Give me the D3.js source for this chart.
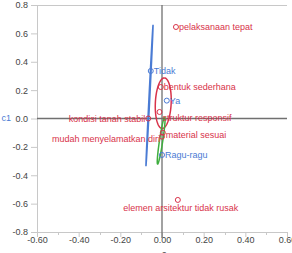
<!DOCTYPE html>
<html>
<head>
<meta charset="utf-8">
<script src="https://cdn.jsdelivr.net/npm/d3@7"></script>
<style>
  body { margin: 0; background: #fff; }
  svg { display: block; font-family: "Liberation Sans", Arial, sans-serif; }
  .tick text { fill: #444; font-size: 9px; }
</style>
</head>
<body>
<svg id="chart" width="292" height="253"></svg>
<script>
// point names, coordinates (c2, c1) and groups
var names = ["pelaksanaan tepat", "Tidak", "bentuk sederhana", "Ya", "struktur responsif",
             "kondisi tanah stabil", "mudah menyelamatkan diri", "material sesuai", "Ragu-ragu",
             "elemen arsitektur tidak rusak"];
var xs = [0.067, -0.054, -0.006, 0.023, -0.012, -0.066, 0.000, 0.004, 0.000, 0.076];
var ys = [0.645, 0.335, 0.222, 0.126, 0.046, 0.000, -0.128, -0.100, -0.257, -0.574];
var groups = ["row", "col", "row", "col", "row", "row", "row", "row", "col", "row"];

// ellipses: centre, major half-axis vector, minor half-axis vector (data units)
var ellipseNames = ["blue", "red", "green"];
var ellipseCx = [-0.060, 0.006, -0.004];
var ellipseCy = [0.162, 0.108, -0.155];
var ellipseMajor = [[0.017, 0.498], [0.005, 0.178], [0.017, 0.166]];
var ellipseMinor = [[0.002, 0.000], [0.038, 0.000], [0.008, 0.000]];

var xTicks = [-0.6, -0.4, -0.2, 0, 0.2, 0.4, 0.6];
var yTicks = [0.8, 0.6, 0.4, 0.2, 0, -0.2, -0.4, -0.6, -0.8];

var colors = { row: "#d8334a", col: "#4a7bd4", blue: "#4a7bd4", red: "#d8334a", green: "#3fae3f" };
// label placement: [anchor, dx, dy]
var placement = {
  "kondisi tanah stabil": ["end", -3, 0],
  "mudah menyelamatkan diri": ["end", -2, 2],
  "elemen arsitektur tidak rusak": ["middle", 3, 8],
  "struktur responsif": ["start", 3, 6],
  "material sesuai": ["start", 3, 2]
};

var svg = d3.select("#chart");
var plotLeft = 37, plotRight = 287, plotTop = 5, plotBottom = 232;

var x = d3.scaleLinear().domain([-0.6, 0.6]).range([plotLeft, plotRight]);
var y = d3.scaleLinear().domain([-0.8, 0.8]).range([plotBottom, plotTop]);
var fmt = function(p){ return function(d){ return d.toFixed(p); }; };

// top border
svg.append("line")
  .attr("x1", plotLeft).attr("x2", plotRight).attr("y1", plotTop + 0.5).attr("y2", plotTop + 0.5)
  .attr("stroke", "#c8c8c8");

// minor x ticks
svg.append("g").selectAll("line")
  .data(d3.range(-0.5, 0.6, 0.2))
  .join("line")
  .attr("x1", function(d){ return Math.round(x(d)) + 0.5; })
  .attr("x2", function(d){ return Math.round(x(d)) + 0.5; })
  .attr("y1", plotBottom).attr("y2", plotBottom + 3)
  .attr("stroke", "#c8c8c8");

var xAxis = svg.append("g")
  .attr("transform", "translate(0," + plotBottom + ")")
  .call(d3.axisBottom(x).tickValues(xTicks).tickFormat(fmt(2)).tickSize(5).tickSizeOuter(0));
xAxis.select(".domain").attr("stroke", "#c8c8c8");
xAxis.selectAll(".tick line").attr("stroke", "#c8c8c8");
xAxis.selectAll(".tick text").attr("y", 5).attr("dy", "0.71em");

var yAxis = svg.append("g")
  .attr("transform", "translate(" + plotLeft + ",0)")
  .call(d3.axisLeft(y).tickValues(yTicks).tickFormat(fmt(1)).tickSize(6).tickSizeOuter(0));
yAxis.select(".domain").attr("stroke", "#c8c8c8");
yAxis.selectAll(".tick line").attr("stroke", "#c8c8c8");
yAxis.selectAll(".tick text").attr("x", -9);

// zero lines
svg.append("line")
  .attr("x1", plotLeft).attr("x2", plotRight).attr("y1", y(0)).attr("y2", y(0))
  .attr("stroke", "#707070").attr("stroke-width", 1.3);
svg.append("line")
  .attr("x1", x(0)).attr("x2", x(0)).attr("y1", plotTop).attr("y2", plotBottom + 6)
  .attr("stroke", "#707070").attr("stroke-width", 1.3);

// axis titles (clipped by the frame)
svg.append("text").attr("x", 11).attr("y", y(0)).attr("dy", "0.32em")
  .attr("text-anchor", "end").attr("font-size", 9).attr("fill", "#4a7bd4").text("c1");
svg.append("text").attr("x", x(0)).attr("y", 258)
  .attr("text-anchor", "middle").attr("font-size", 9).attr("fill", "#444").text("c2");

// ellipses
var line = d3.line().x(function(p){ return x(p[0]); }).y(function(p){ return y(p[1]); });
svg.append("g").selectAll("path")
  .data(ellipseNames)
  .join("path")
  .attr("fill", "none")
  .attr("stroke", function(d){ return colors[d]; })
  .attr("stroke-width", 1.5)
  .attr("d", function(d, i){
    var pts = d3.range(0, 2 * Math.PI + 0.001, Math.PI / 60).map(function(t){
      return [ellipseCx[i] + Math.cos(t) * ellipseMajor[i][0] + Math.sin(t) * ellipseMinor[i][0],
              ellipseCy[i] + Math.cos(t) * ellipseMajor[i][1] + Math.sin(t) * ellipseMinor[i][1]];
    });
    return line(pts);
  });

// points
var pts = svg.append("g").selectAll("g")
  .data(names)
  .join("g")
  .attr("transform", function(d, i){ return "translate(" + x(xs[i]) + "," + y(ys[i]) + ")"; });

pts.append("circle")
  .attr("r", 2.5)
  .attr("fill", "none")
  .attr("stroke", function(d, i){ return colors[groups[i]]; })
  .attr("stroke-width", 1);

pts.append("text")
  .attr("font-size", 9)
  .attr("fill", function(d, i){ return colors[groups[i]]; })
  .attr("text-anchor", function(d){ return placement[d] ? placement[d][0] : "start"; })
  .attr("x", function(d){ return placement[d] ? placement[d][1] : 3; })
  .attr("y", function(d){ return placement[d] ? placement[d][2] : 0; })
  .attr("dy", "0.35em")
  .text(function(d){ return d; });
</script>
</body>
</html>
